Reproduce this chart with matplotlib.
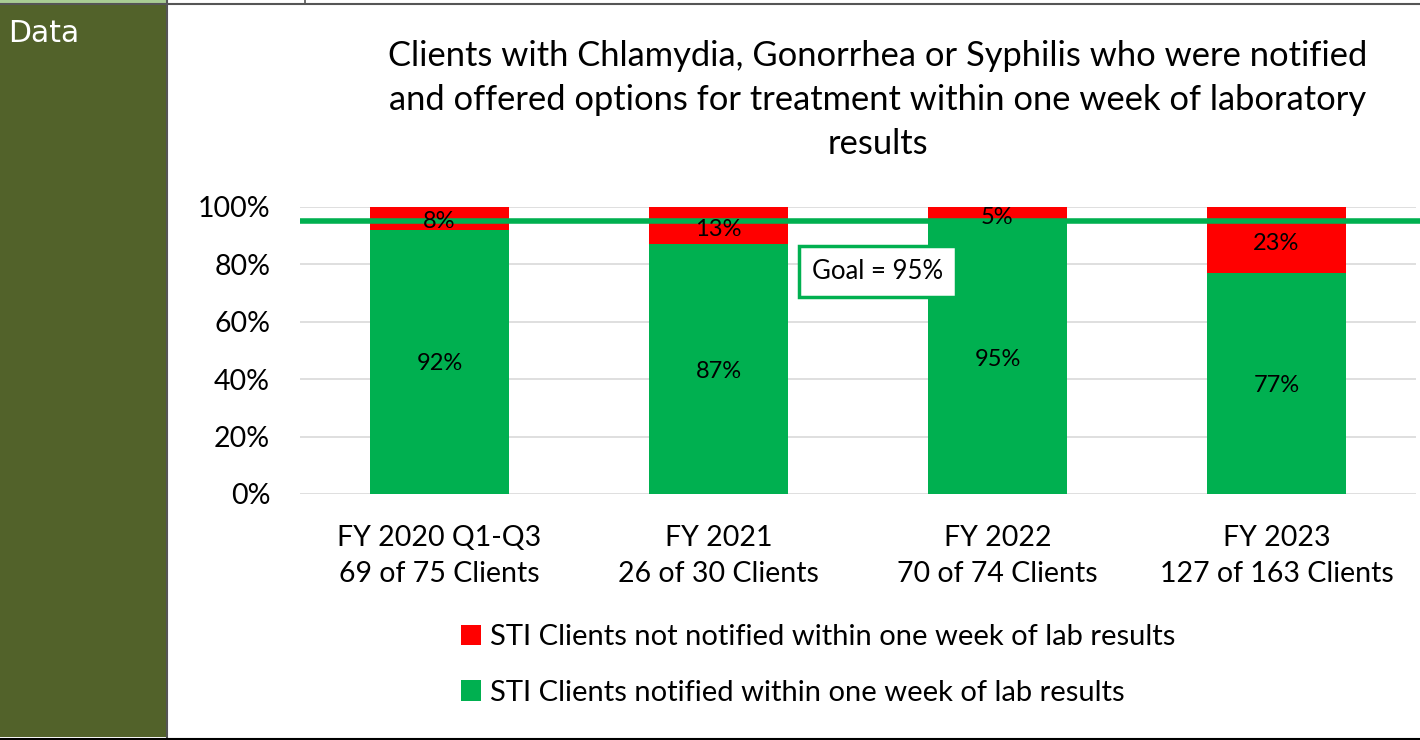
import matplotlib
matplotlib.use("Agg")
import matplotlib.pyplot as plt
from matplotlib.patches import Rectangle
from matplotlib.lines import Line2D
import numpy as np

categories = ["FY 2020 Q1-Q3\n69 of 75 Clients", "FY 2021\n26 of 30 Clients",
              "FY 2022\n70 of 74 Clients", "FY 2023\n127 of 163 Clients"]
notified = [92, 87, 95, 77]
not_notified = [8, 13, 5, 23]
goal = 95
yticks = [0, 20, 40, 60, 80, 100]

GREEN = "#00B050"
RED = "#FF0000"
FONT = ["Lato", "DejaVu Sans"]
plt.rcParams['font.family'] = FONT

W, H = 1420, 740
fig = plt.figure(figsize=(W / 100, H / 100), dpi=100)

def fx(px):
    return px / W

def fy(py):
    return 1 - py / H

fig.patches.append(Rectangle((0, fy(737)), fx(166), fy(5) - fy(737), transform=fig.transFigure,
                             facecolor="#52622A", edgecolor="none", zorder=0))
fig.patches.append(Rectangle((0, fy(3)), fx(166), fy(0) - fy(3), transform=fig.transFigure,
                             facecolor="#A9CD94", edgecolor="none", zorder=0))
fig.lines.append(Line2D([0, 1], [fy(4), fy(4)], transform=fig.transFigure, color="#555555", lw=1.5))
fig.lines.append(Line2D([fx(166.5), fx(166.5)], [fy(0), fy(738)], transform=fig.transFigure,
                        color="#555555", lw=1.5))
fig.lines.append(Line2D([fx(305), fx(305)], [fy(0), fy(4)], transform=fig.transFigure,
                        color="#555555", lw=1.2))
fig.lines.append(Line2D([0, 1], [fy(738.5), fy(738.5)], transform=fig.transFigure, color="black", lw=1.5))
fig.text(fx(8), fy(34), "Data", color="white", fontsize=21.5, family=["DejaVu Sans"],
         va="center", ha="left")

ax = fig.add_axes([fx(300), fy(494), fx(1416) - fx(300), fy(207) - fy(494)])
x = np.arange(len(categories))
bw = 0.5
ax.bar(x, notified, bw, color=GREEN, zorder=2, label="STI Clients notified within one week of lab results")
ax.bar(x, not_notified, bw, bottom=notified, color=RED, zorder=2,
       label="STI Clients not notified within one week of lab results")

for i in range(len(categories)):
    ax.text(x[i], notified[i] / 2 - 0.7, f"{notified[i]}%", ha="center", va="center", fontsize=17, zorder=4)
    ax.text(x[i], notified[i] + not_notified[i] / 2 - 1.2, f"{not_notified[i]}%", ha="center",
            va="center", fontsize=17, zorder=4)

ax.set_xlim(-0.5, len(categories) - 0.5)
ax.set_ylim(0, 100)
ax.set_yticks(yticks)
ax.set_yticklabels([f"{v}%" for v in yticks], fontsize=20.5)
ax.set_xticks(x)
ax.set_xticklabels(categories, fontsize=20.5, linespacing=1.5)
ax.tick_params(axis="both", length=0)
ax.tick_params(axis="y", pad=21.5)
ax.tick_params(axis="x", pad=22)
ax.grid(axis="y", color="#D9D9D9", lw=1.2, zorder=0)
for s in ax.spines.values():
    s.set_visible(False)

ax.plot([-0.5, 3.52], [goal, goal], color=GREEN, lw=4, zorder=3, clip_on=False, solid_capstyle="butt")

ax.text(1.335, 77.5, "Goal = 95%", ha="left", va="center", fontsize=18.5, zorder=5,
        bbox=dict(boxstyle="square,pad=0.5", facecolor="white", edgecolor=GREEN, lw=2.5))

fig.text(fx(878), fy(100), "Clients with Chlamydia, Gonorrhea or Syphilis who were notified\n"
         "and offered options for treatment within one week of laboratory\nresults",
         ha="center", va="center", fontsize=24.8, linespacing=1.45)

handles, labels = ax.get_legend_handles_labels()
leg = fig.legend(handles[::-1], labels[::-1], loc="center", bbox_to_anchor=(fx(818), fy(665)),
                 ncol=1, frameon=False, fontsize=21, handlelength=0.68, handleheight=0.7,
                 labelspacing=1.0, handletextpad=0.3)

fig.savefig("out.png", dpi=100)
